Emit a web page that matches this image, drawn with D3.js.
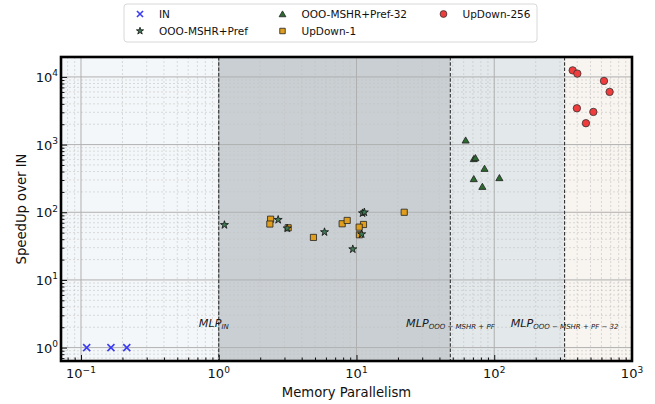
<!DOCTYPE html>
<html>
<head>
<meta charset="utf-8">
<script src="https://cdn.jsdelivr.net/npm/d3@7"></script>
<style>
body { margin: 0; background: #fff; }
text { font-family: "DejaVu Sans", sans-serif; }
</style>
</head>
<body>
<div id="chart"></div>
<script>
// data
var inX = [0.11, 0.165, 0.215];
var inY = [1, 1, 1];

var prefX = [1.10, 2.70, 3.14, 5.86, 9.40, 10.9, 11.06, 11.4];
var prefY = [65, 77.5, 58, 51, 28.5, 47.5, 97, 100];

var pref32X = [62, 71, 73, 85, 71, 82, 109];
var pref32Y = [1160, 617, 637, 443, 312, 240, 323];

var ud1X = [2.38, 2.35, 3.19, 4.87, 7.87, 8.56, 11.24, 10.46, 10.5, 22.2];
var ud1Y = [79, 67, 59, 42.5, 67.6, 75.7, 66, 60.3, 46.5, 100];

var ud256X = [371, 401, 626, 688, 398, 524, 463];
var ud256Y = [12500, 11200, 8730, 6010, 3440, 3040, 2070];

var regionEdges = [0.0716, 1, 48, 324, 1000];
var regionColors = ["#f4f7f9", "#c9cfd2", "#e3e8eb", "#f8f4ef"];
var vlineX = [1, 48, 324];
var mlpSubs = ["IN", "OOO − MSHR + PF", "OOO − MSHR + PF − 32"];
var mlpShift = [-5, 0, 0];

var xTickExps = [-1, 0, 1, 2, 3];
var yTickExps = [0, 1, 2, 3, 4];

var svgWidth = 655;
var svgHeight = 404;
var margin = { top: 57, right: 23, bottom: 43, left: 61 };
var width = svgWidth - margin.left - margin.right;
var height = svgHeight - margin.top - margin.bottom;

var svg = d3.select("#chart").append("svg")
    .attr("width", svgWidth)
    .attr("height", svgHeight);

var chartGroup = svg.append("g")
    .attr("transform", `translate(${margin.left}, ${margin.top})`);

var x = d3.scaleLog().domain([0.0716, 1000]).range([0, width]);
var y = d3.scaleLog().domain([0.634, 19700]).range([height, 0]);

// shaded regions
chartGroup.selectAll(".region").data(regionColors).enter()
    .append("rect")
    .attr("x", (d, i) => x(regionEdges[i]))
    .attr("width", (d, i) => x(regionEdges[i + 1]) - x(regionEdges[i]))
    .attr("y", 0)
    .attr("height", height)
    .attr("fill", d => d);

// minor / major values
function minors(lo, hi) {
    var out = [];
    for (var e = lo; e <= hi; e++) {
        for (var k = 2; k <= 9; k++) out.push(k * Math.pow(10, e));
    }
    return out;
}
var xMinor = minors(-2, 2).filter(v => v > x.domain()[0] && v < x.domain()[1]);
var yMinor = minors(-1, 4).filter(v => v > y.domain()[0] && v < y.domain()[1]);
var xMajor = xTickExps.map(e => Math.pow(10, e));
var yMajor = yTickExps.map(e => Math.pow(10, e));

// grid
chartGroup.selectAll(".gxm").data(xMinor).enter().append("line")
    .attr("x1", d => x(d)).attr("x2", d => x(d))
    .attr("y1", 0).attr("y2", height)
    .attr("stroke", "#c4c4c4").attr("stroke-width", 0.6)
    .attr("stroke-dasharray", "2,2");
chartGroup.selectAll(".gym").data(yMinor).enter().append("line")
    .attr("y1", d => y(d)).attr("y2", d => y(d))
    .attr("x1", 0).attr("x2", width)
    .attr("stroke", "#c4c4c4").attr("stroke-width", 0.6)
    .attr("stroke-dasharray", "2,2");
chartGroup.selectAll(".gxM").data(xMajor).enter().append("line")
    .attr("x1", d => x(d)).attr("x2", d => x(d))
    .attr("y1", 0).attr("y2", height)
    .attr("stroke", "#b0b0b0").attr("stroke-width", 1);
chartGroup.selectAll(".gyM").data(yMajor).enter().append("line")
    .attr("y1", d => y(d)).attr("y2", d => y(d))
    .attr("x1", 0).attr("x2", width)
    .attr("stroke", "#b0b0b0").attr("stroke-width", 1);

// dashed region boundaries
chartGroup.selectAll(".vl").data(vlineX).enter().append("line")
    .attr("x1", d => x(d)).attr("x2", d => x(d))
    .attr("y1", 0).attr("y2", height)
    .attr("stroke", "#333").attr("stroke-width", 1.1)
    .attr("stroke-dasharray", "3.5,1.8");

// MLP labels
var mlp = chartGroup.selectAll(".mlp").data(vlineX).enter().append("text")
    .attr("x", (d, i) => x(d) + mlpShift[i])
    .attr("y", y(2.05))
    .attr("text-anchor", "middle")
    .attr("font-style", "italic")
    .attr("font-size", "11.2px")
    .attr("fill", "#1a1a1a");
mlp.append("tspan").text("MLP");
mlp.append("tspan").attr("font-size", "7px").attr("dy", 2.5).text((d, i) => mlpSubs[i]);

// axes
var bottomAxis = d3.axisBottom(x).tickValues(xMajor).tickSizeInner(-6).tickSizeOuter(0).tickFormat("");
var bottomMinor = d3.axisBottom(x).tickValues(xMinor).tickSizeInner(-3.5).tickSizeOuter(0).tickFormat("");
var leftAxis = d3.axisLeft(y).tickValues(yMajor).tickSizeInner(-6).tickSizeOuter(0).tickFormat("");
var leftMinor = d3.axisLeft(y).tickValues(yMinor).tickSizeInner(-3.5).tickSizeOuter(0).tickFormat("");

[bottomAxis, bottomMinor].forEach(function(ax) {
    chartGroup.append("g").attr("transform", `translate(0, ${height})`).call(ax)
        .call(g => g.select(".domain").remove())
        .selectAll("line").attr("stroke", "#111").attr("stroke-width", 1);
});
[leftAxis, leftMinor].forEach(function(ax) {
    chartGroup.append("g").call(ax)
        .call(g => g.select(".domain").remove())
        .selectAll("line").attr("stroke", "#111").attr("stroke-width", 1);
});

// tick labels with superscripts
var xl = chartGroup.selectAll(".xtl").data(xTickExps).enter().append("text")
    .attr("x", d => x(Math.pow(10, d)))
    .attr("y", height + 17)
    .attr("text-anchor", "middle")
    .attr("font-size", "13px")
    .attr("fill", "#111");
xl.append("tspan").text("10");
xl.append("tspan").attr("font-size", "9px").attr("dy", -5.5)
    .text(d => d < 0 ? "\u2212" + (-d) : d);

var yl = chartGroup.selectAll(".ytl").data(yTickExps).enter().append("text")
    .attr("x", -3)
    .attr("y", d => y(Math.pow(10, d)) + 5)
    .attr("text-anchor", "end")
    .attr("font-size", "13px")
    .attr("fill", "#111");
yl.append("tspan").text("10");
yl.append("tspan").attr("font-size", "9px").attr("dy", -5.5).text(d => d);

// frame
chartGroup.append("rect")
    .attr("width", width).attr("height", height)
    .attr("fill", "none").attr("stroke", "#000").attr("stroke-width", 2.6);

// axis titles
svg.append("text")
    .attr("x", margin.left + width / 2)
    .attr("y", 396.5)
    .attr("text-anchor", "middle")
    .attr("font-size", "13.2px")
    .attr("fill", "#111")
    .text("Memory Parallelism");
svg.append("text")
    .attr("transform", `translate(26, ${margin.top + height / 2}) rotate(-90)`)
    .attr("text-anchor", "middle")
    .attr("font-size", "13.2px")
    .attr("fill", "#111")
    .text("SpeedUp over IN");

// points
function pts(xs, ys) { return xs.map((v, i) => [v, ys[i]]); }

chartGroup.selectAll(".in").data(pts(inX, inY)).enter().append("path")
    .attr("transform", d => `translate(${x(d[0])}, ${y(d[1])})`)
    .attr("d", d3.symbol(d3.symbolTimes, 34)())
    .attr("fill", "none")
    .attr("stroke", "#3c3cf5").attr("stroke-width", 1.6);

chartGroup.selectAll(".ud1").data(pts(ud1X, ud1Y)).enter().append("path")
    .attr("transform", d => `translate(${x(d[0])}, ${y(d[1])})`)
    .attr("d", d3.symbol(d3.symbolSquare, 38)())
    .attr("fill", "#e09e1c").attr("stroke", "#222").attr("stroke-width", 0.8);

chartGroup.selectAll(".pref").data(pts(prefX, prefY)).enter().append("path")
    .attr("transform", d => `translate(${x(d[0])}, ${y(d[1])})`)
    .attr("d", d3.symbol(d3.symbolStar, 20)())
    .attr("fill", "#3f7a55").attr("stroke", "#111").attr("stroke-width", 0.8);

chartGroup.selectAll(".p32").data(pts(pref32X, pref32Y)).enter().append("path")
    .attr("transform", d => `translate(${x(d[0])}, ${y(d[1]) + 0.8})`)
    .attr("d", d3.symbol(d3.symbolTriangle, 22)())
    .attr("fill", "#2c6a30").attr("stroke", "#222").attr("stroke-width", 0.8);

chartGroup.selectAll(".ud256").data(pts(ud256X, ud256Y)).enter().append("circle")
    .attr("cx", d => x(d[0])).attr("cy", d => y(d[1]))
    .attr("r", 3.7)
    .attr("fill", "#f03c3c").attr("stroke", "#333").attr("stroke-width", 0.8);

// legend
var legend = svg.append("g");
legend.append("rect")
    .attr("x", 124).attr("y", 4).attr("width", 413).attr("height", 38)
    .attr("rx", 3)
    .attr("fill", "#fff").attr("stroke", "#d8d8d8");

var legendItems = [
    { label: "IN", col: 0, row: 0 },
    { label: "OOO-MSHR+Pref", col: 0, row: 1 },
    { label: "OOO-MSHR+Pref-32", col: 1, row: 0 },
    { label: "UpDown-1", col: 1, row: 1 },
    { label: "UpDown-256", col: 2, row: 0 }
];
var colX = [140, 282.5, 443.5];
var rowY = [14, 31];
legendItems.forEach(function(it) {
    var mx = colX[it.col], my = rowY[it.row];
    var g = legend.append("g").attr("transform", `translate(${mx}, ${my})`);
    if (it.label === "IN") {
        g.append("path").attr("d", d3.symbol(d3.symbolTimes, 26)())
            .attr("fill", "none").attr("stroke", "#3c3cf5").attr("stroke-width", 1.6);
    } else if (it.label === "OOO-MSHR+Pref") {
        g.append("path").attr("d", d3.symbol(d3.symbolStar, 16)())
            .attr("fill", "#3f7a55").attr("stroke", "#111").attr("stroke-width", 0.8);
    } else if (it.label === "OOO-MSHR+Pref-32") {
        g.append("path").attr("transform", "translate(0,0.8)").attr("d", d3.symbol(d3.symbolTriangle, 20)())
            .attr("fill", "#2c6a30").attr("stroke", "#222").attr("stroke-width", 0.8);
    } else if (it.label === "UpDown-1") {
        g.append("path").attr("d", d3.symbol(d3.symbolSquare, 30)())
            .attr("fill", "#e09e1c").attr("stroke", "#222").attr("stroke-width", 0.8);
    } else {
        g.append("circle").attr("r", 3.4)
            .attr("fill", "#f03c3c").attr("stroke", "#333").attr("stroke-width", 0.8);
    }
    legend.append("text")
        .attr("x", mx + 19).attr("y", my + 4)
        .attr("font-size", "10.5px")
        .attr("fill", "#111")
        .text(it.label);
});
</script>
</body>
</html>
